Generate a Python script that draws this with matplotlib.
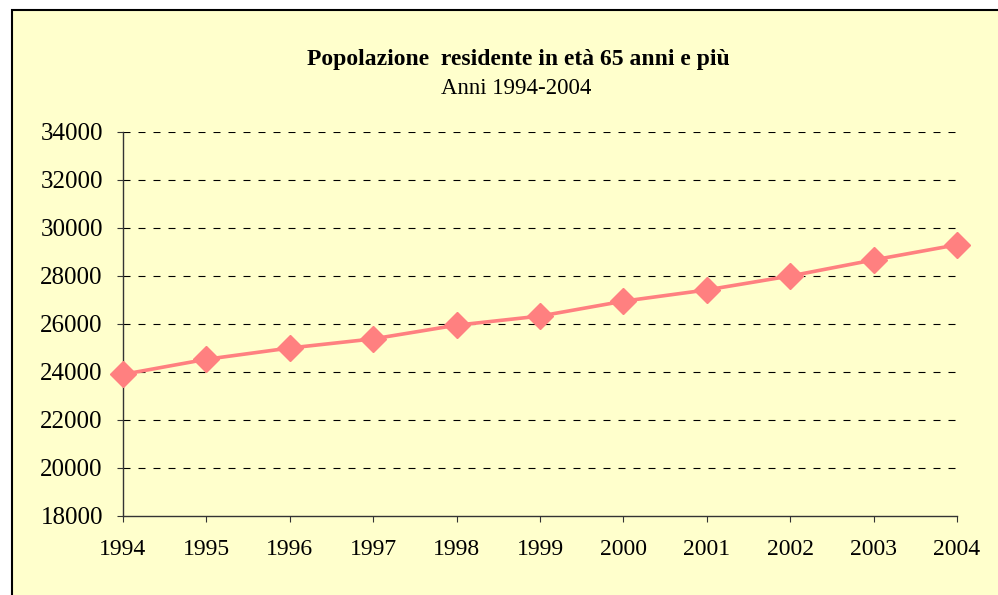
import matplotlib
matplotlib.use("Agg")
import matplotlib.pyplot as plt
from matplotlib.patches import Rectangle

years = [1994, 1995, 1996, 1997, 1998, 1999, 2000, 2001, 2002, 2003, 2004]
values = [23900, 24530, 25000, 25380, 25950, 26330, 26950, 27420, 28000, 28670, 29300]
yticks = [18000, 20000, 22000, 24000, 26000, 28000, 30000, 32000, 34000]
title = "Popolazione  residente in età 65 anni e più"
subtitle = "Anni 1994-2004"

W, H = 998, 595
fig = plt.figure(figsize=(W / 100, H / 100), dpi=100)
fig.patch.set_facecolor("white")
bg = "#FFFFCC"
fig.patches.append(Rectangle((12 / W, -0.1), 1.2, 1.1 - 10 / H, transform=fig.transFigure,
                             facecolor=bg, edgecolor="black", linewidth=1.5, zorder=-5))

ax = fig.add_axes([123 / W, 1 - 516 / H, (957 - 123) / W, (516 - 132) / H])
ax.set_zorder(2)
ax.set_facecolor("none")
ax.plot(years, values, color="#FF8080", linewidth=2.6, marker="D", markersize=13,
        markerfacecolor="#FF8080", markeredgecolor="#FF8080", zorder=3, clip_on=False)
ax.set_xlim(1994, 2004)
ax.set_ylim(18000, 34000)
ax.set_yticks(yticks)
ax.set_xticks(years)
for y in yticks[1:]:
    ax.axhline(y, color="black", linestyle=(0, (6.3, 7.2)), linewidth=0.8, zorder=1)
for s in ["top", "right"]:
    ax.spines[s].set_visible(False)
for s in ["left", "bottom"]:
    ax.spines[s].set_color("#333333")
    ax.spines[s].set_linewidth(1.0)
ax.tick_params(axis="y", length=4.5, width=0.8, color="#333333", labelsize=18, pad=10)
ax.tick_params(axis="x", length=4.5, width=0.8, color="#333333", labelsize=17, pad=12)
for lab in ax.get_xticklabels() + ax.get_yticklabels():
    lab.set_fontfamily("Liberation Serif")

fig.text(518 / W, 1 - 60 / H, title, ha="center", va="center", fontsize=17,
         fontweight="bold", fontfamily="Liberation Serif")
fig.text(516 / W, 1 - 89 / H, subtitle, ha="center", va="center", fontsize=16.5,
         fontfamily="Liberation Serif")

fig.savefig("out.png", dpi=100, facecolor="white")
